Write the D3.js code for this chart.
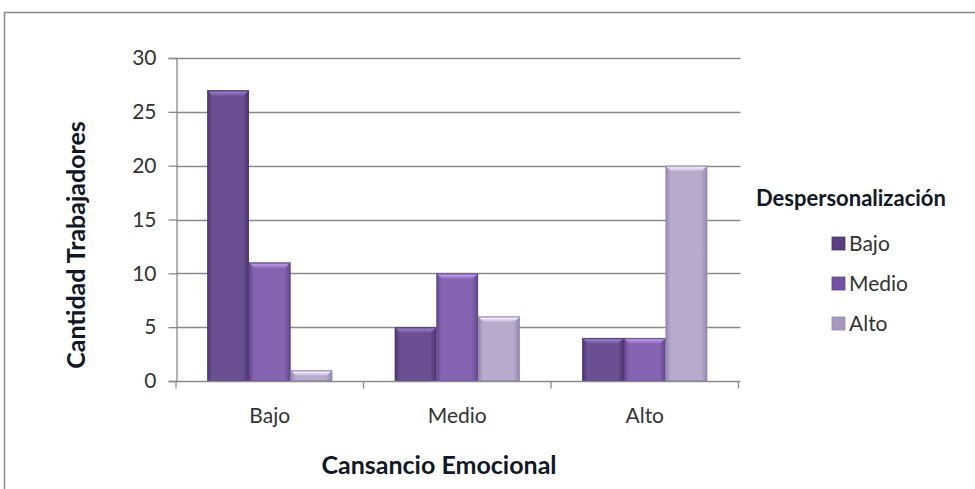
<!DOCTYPE html>
<html>
<head>
<meta charset="utf-8">
<script src="https://cdn.jsdelivr.net/npm/d3@7"></script>
<style>
  body { margin: 0; background: #fff; }
  text { font-family: Lato, "Open Sans", sans-serif; }
</style>
</head>
<body>
<script>
// data
const categories = ["Bajo", "Medio", "Alto"];
const series = ["Bajo", "Medio", "Alto"];
const bajo = [27, 5, 4];
const medio = [11, 10, 4];
const alto = [1, 6, 20];
const yTicks = [0, 5, 10, 15, 20, 25, 30];

const values = [bajo, medio, alto];
const colors = {
  Bajo:  {edge: "#4b346e", mid: "#6a5092", top: "#9478c6", icon: "#5a3f82"},
  Medio: {edge: "#614689", mid: "#8463b0", top: "#b896e6", icon: "#7450a0"},
  Alto:  {edge: "#9486ad", mid: "#b8aacd", top: "#efe6fa", icon: "#a698bd"}
};

const W = 975, H = 489;
const svg = d3.select("body").append("svg")
  .attr("width", W).attr("height", H);

// outer frame (right and bottom go off-canvas)
svg.append("rect")
  .attr("x", 4.5).attr("y", 12.5)
  .attr("width", W + 20).attr("height", H + 20)
  .attr("fill", "none").attr("stroke", "#8c8c8c").attr("stroke-width", 1.5);

const m = {left: 176, right: 738.5, top: 58, bottom: 381};

const x0 = d3.scaleBand().domain(categories).range([m.left, m.right]);
const bw = x0.bandwidth();
const barW = bw / 4.5;
const x1 = d3.scaleBand().domain(series).range([barW * 0.75, bw - barW * 0.75]);
const y = d3.scaleLinear().domain([0, 30]).range([m.bottom, m.top]);

const defs = svg.append("defs");
series.forEach((s, i) => {
  const c = colors[s];
  const g = defs.append("linearGradient").attr("id", "body" + i)
    .attr("x1", 0).attr("x2", 1).attr("y1", 0).attr("y2", 0);
  g.append("stop").attr("offset", "0%").attr("stop-color", c.edge);
  g.append("stop").attr("offset", "12%").attr("stop-color", c.mid);
  g.append("stop").attr("offset", "85%").attr("stop-color", c.mid);
  g.append("stop").attr("offset", "100%").attr("stop-color", c.edge);
  const t = defs.append("linearGradient").attr("id", "top" + i)
    .attr("x1", 0).attr("x2", 0).attr("y1", 0).attr("y2", 1);
  t.append("stop").attr("offset", "0%").attr("stop-color", c.mid);
  t.append("stop").attr("offset", "35%").attr("stop-color", c.top);
  t.append("stop").attr("offset", "100%").attr("stop-color", c.mid);
});

// gridlines
svg.append("g")
  .selectAll("line").data(yTicks.filter(d => d > 0)).join("line")
  .attr("x1", m.left).attr("x2", m.right + 2)
  .attr("y1", d => Math.round(y(d)) + 0.5).attr("y2", d => Math.round(y(d)) + 0.5)
  .attr("stroke", "#8a8a8a").attr("stroke-width", 1.3);

// bars
const groups = svg.append("g").selectAll("g").data(categories).join("g")
  .attr("transform", d => `translate(${x0(d)},0)`);

groups.each(function(cat, ci) {
  const g = d3.select(this);
  series.forEach((s, si) => {
    const v = values[si][ci];
    const bx = x1(s), by = y(v), bh = y(0) - y(v);
    g.append("rect")
      .attr("x", bx).attr("y", by).attr("width", barW).attr("height", bh)
      .attr("fill", `url(#body${si})`);
    const bev = Math.min(6, bh);
    g.append("path")
      .attr("d", `M${bx},${by}L${bx + barW},${by}L${bx + barW - bev},${by + bev}L${bx + bev},${by + bev}Z`)
      .attr("fill", `url(#top${si})`);
    g.append("rect")
      .attr("x", bx + 0.5).attr("y", by + 0.5).attr("width", barW - 1).attr("height", Math.max(0, bh - 1))
      .attr("fill", "none").attr("stroke", colors[s].edge).attr("stroke-opacity", 0.6);
  });
});

// y axis
const yAxis = svg.append("g")
  .attr("transform", `translate(${m.left + 0.5},0)`)
  .call(d3.axisLeft(y).tickValues(yTicks).tickSize(8).tickPadding(12));
yAxis.select(".domain").attr("stroke", "#8a8a8a").attr("stroke-width", 1.3);
yAxis.selectAll(".tick line").attr("stroke", "#8a8a8a").attr("stroke-width", 1.3);
yAxis.selectAll(".tick text").attr("font-size", 21).attr("fill", "#333")
  .style("font-family", "Lato, sans-serif");

// x axis
const xAxis = svg.append("g")
  .attr("transform", `translate(0,${m.bottom + 0.5})`)
  .call(d3.axisBottom(x0).tickSize(0).tickPadding(27));
xAxis.select(".domain").attr("stroke", "#8a8a8a").attr("stroke-width", 1.3)
  .attr("d", `M${m.left},0H${m.right + 2}`);
xAxis.selectAll(".tick text").attr("font-size", 21).attr("fill", "#333")
  .style("font-family", "Lato, sans-serif");
xAxis.append("g").selectAll("line")
  .data(categories.map(c => x0(c)).concat([m.right]))
  .join("line")
  .attr("x1", d => d).attr("x2", d => d).attr("y1", 0).attr("y2", 7)
  .attr("stroke", "#8a8a8a").attr("stroke-width", 1.3);

// axis titles
svg.append("text")
  .attr("x", 439).attr("y", 474)
  .attr("text-anchor", "middle").attr("font-size", 25).attr("font-weight", "bold")
  .attr("fill", "#101828").text("Cansancio Emocional");

svg.append("text")
  .attr("transform", `translate(85,245) rotate(-90)`)
  .attr("text-anchor", "middle").attr("font-size", 25).attr("font-weight", "bold")
  .attr("fill", "#101828").text("Cantidad Trabajadores");

// legend
svg.append("text")
  .attr("x", 756).attr("y", 206)
  .attr("font-size", 22).attr("font-weight", "bold").attr("fill", "#101828")
  .text("Despersonalización");

const leg = svg.append("g").selectAll("g").data(series).join("g")
  .attr("transform", (d, i) => `translate(832,${237 + i * 40})`);
leg.append("rect").attr("width", 13).attr("height", 13)
  .attr("fill", (d, i) => colors[d].icon).attr("stroke", (d) => colors[d].edge).attr("stroke-width", 0.8);
leg.append("text").attr("x", 17).attr("y", 14)
  .attr("font-size", 21).attr("fill", "#333").text(d => d);
</script>
</body>
</html>
